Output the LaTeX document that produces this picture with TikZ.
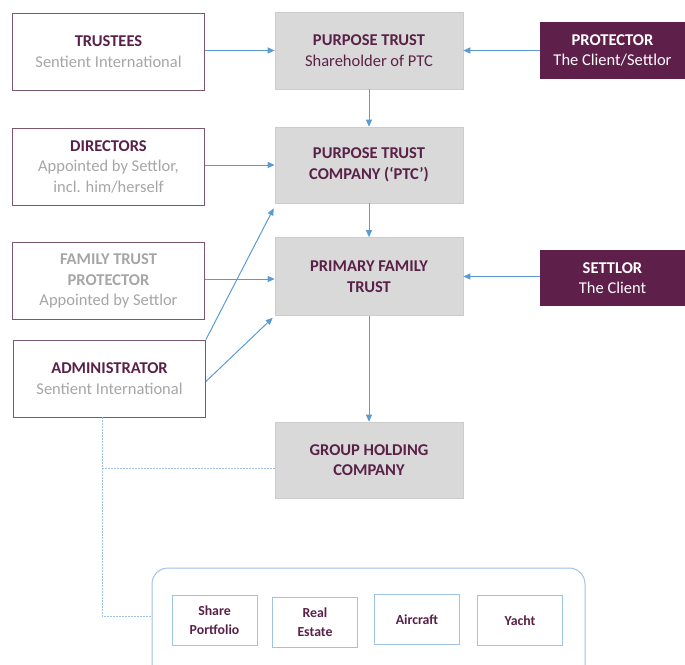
\documentclass[tikz,border=0pt]{standalone}
\usepackage{fontspec}
\setmainfont{Carlito}
\usetikzlibrary{arrows.meta,calc}
\definecolor{plum}{HTML}{5E1F4B}
\definecolor{titlec}{HTML}{5A2148}
\definecolor{subc}{HTML}{A6A6A6}
\definecolor{wborder}{HTML}{7D566F}
\definecolor{greyfill}{HTML}{D9D9D9}
\definecolor{greyline}{HTML}{CCCCCC}
\definecolor{arrowc}{HTML}{5B9BD5}
\definecolor{contc}{HTML}{9DC3E6}
\begin{document}
\begin{tikzpicture}[x=1pt,y=-1pt,
  base/.style={rectangle,align=center,inner sep=0pt,font=\fontsize{16.5}{20.5}\selectfont},
  wbox/.style={base,draw=wborder,fill=white,line width=0.8pt,minimum width=192pt,minimum height=77pt},
  gbox/.style={base,draw=greyline,fill=greyfill,line width=0.6pt,minimum width=188pt,minimum height=77pt,text=titlec},
  pbox/.style={base,fill=plum,text=white,minimum width=145pt},
  ibox/.style={rectangle,draw=contc,line width=1pt,fill=white,align=center,inner sep=0pt,
     minimum width=85pt,minimum height=50pt,text=titlec,font=\fontsize{13.8}{19}\selectfont\bfseries},
  arr/.style={draw=arrowc,line width=1pt,-{Triangle[length=7pt,width=6pt]}},
  dotl/.style={draw=contc,line width=1pt,dash pattern=on 1.5pt off 1.5pt}]
\useasboundingbox (0,0) rectangle (685,664);
\newcommand{\ttl}[1]{{\bfseries\color{titlec}#1}}
\newcommand{\sbt}[1]{{\color{subc}#1}}
% left column
\node[wbox] (trustees) at (108.5,51.5) {\ttl{TRUSTEES}\\\sbt{Sentient International}};
\node[wbox] (directors) at (108.5,166.5) {\ttl{DIRECTORS}\\\sbt{Appointed by Settlor,}\\\sbt{incl. him/herself}};
\node[wbox] (ftp) at (108.5,281) {\sbt{\bfseries FAMILY TRUST}\\\sbt{\bfseries PROTECTOR}\\\sbt{Appointed by Settlor}};
\node[wbox] (admin) at (109.5,378.5) {\ttl{ADMINISTRATOR}\\\sbt{Sentient International}};
% middle column
\node[gbox] (pt) at (369,50.5) {\bfseries PURPOSE TRUST\\Shareholder of PTC};
\node[gbox,minimum height=76pt] (ptc) at (369,165) {\bfseries PURPOSE TRUST\\\bfseries COMPANY (‘PTC’)};
\node[gbox,minimum height=78pt] (pft) at (369,276.5) {\bfseries PRIMARY FAMILY\\\bfseries TRUST};
\node[gbox,minimum height=76pt] (ghc) at (369,460) {\bfseries GROUP HOLDING\\\bfseries COMPANY};
% right column
\node[pbox,minimum height=57pt] (protector) at (612.5,50.5) {\bfseries PROTECTOR\\The Client/Settlor};
\node[pbox,minimum height=56pt] (settlor) at (612.5,278) {\bfseries SETTLOR\\The Client};
% container
\draw[contc,line width=1pt,rounded corners=16pt,fill=white] (152,568) rectangle (585,690);
\coordinate (contw) at (152,616);
\node[ibox] (share) at (214.5,620.5) {Share\\Portfolio};
\node[ibox] (real) at (315,622.5) {Real\\Estate};
\node[ibox] (aircraft) at (417,619.5) {Aircraft};
\node[ibox] (yacht) at (520,620.5) {Yacht};
% arrows
\draw[arr] (trustees.east |- pt.west) -- (pt.west);
\draw[arr] (protector.west |- pt.east) -- (pt.east);
\draw[arr] (pt.south) -- (ptc.north);
\draw[arr] (directors.east |- ptc.west) -- (ptc.west);
\draw[arr] (ptc.south) -- (pft.north);
\draw[arr] ($(ftp.east)+(0,-2)$) -- ($(ftp.east -| pft.west)+(0,-2)$);
\draw[arr] (settlor.west |- pft.east) -- (pft.east);
\draw[arr] (admin.north east) -- ($(ptc.south west)+(-1,5)$);
\draw[arr] ($(admin.east)+(0,3)$) -- ($(pft.south west)+(-2,2)$);
\draw[arr] (pft.south) -- (ghc.north);
% dotted links
\coordinate (dtop) at ($(admin.south)+(-7.5,0)$);
\coordinate (ghcin) at ($(ghc.west)+(0,8)$);
\draw[dotl] (dtop) |- (contw);
\draw[dotl] (ghcin -| dtop) -- (ghcin);
\end{tikzpicture}
\end{document}
